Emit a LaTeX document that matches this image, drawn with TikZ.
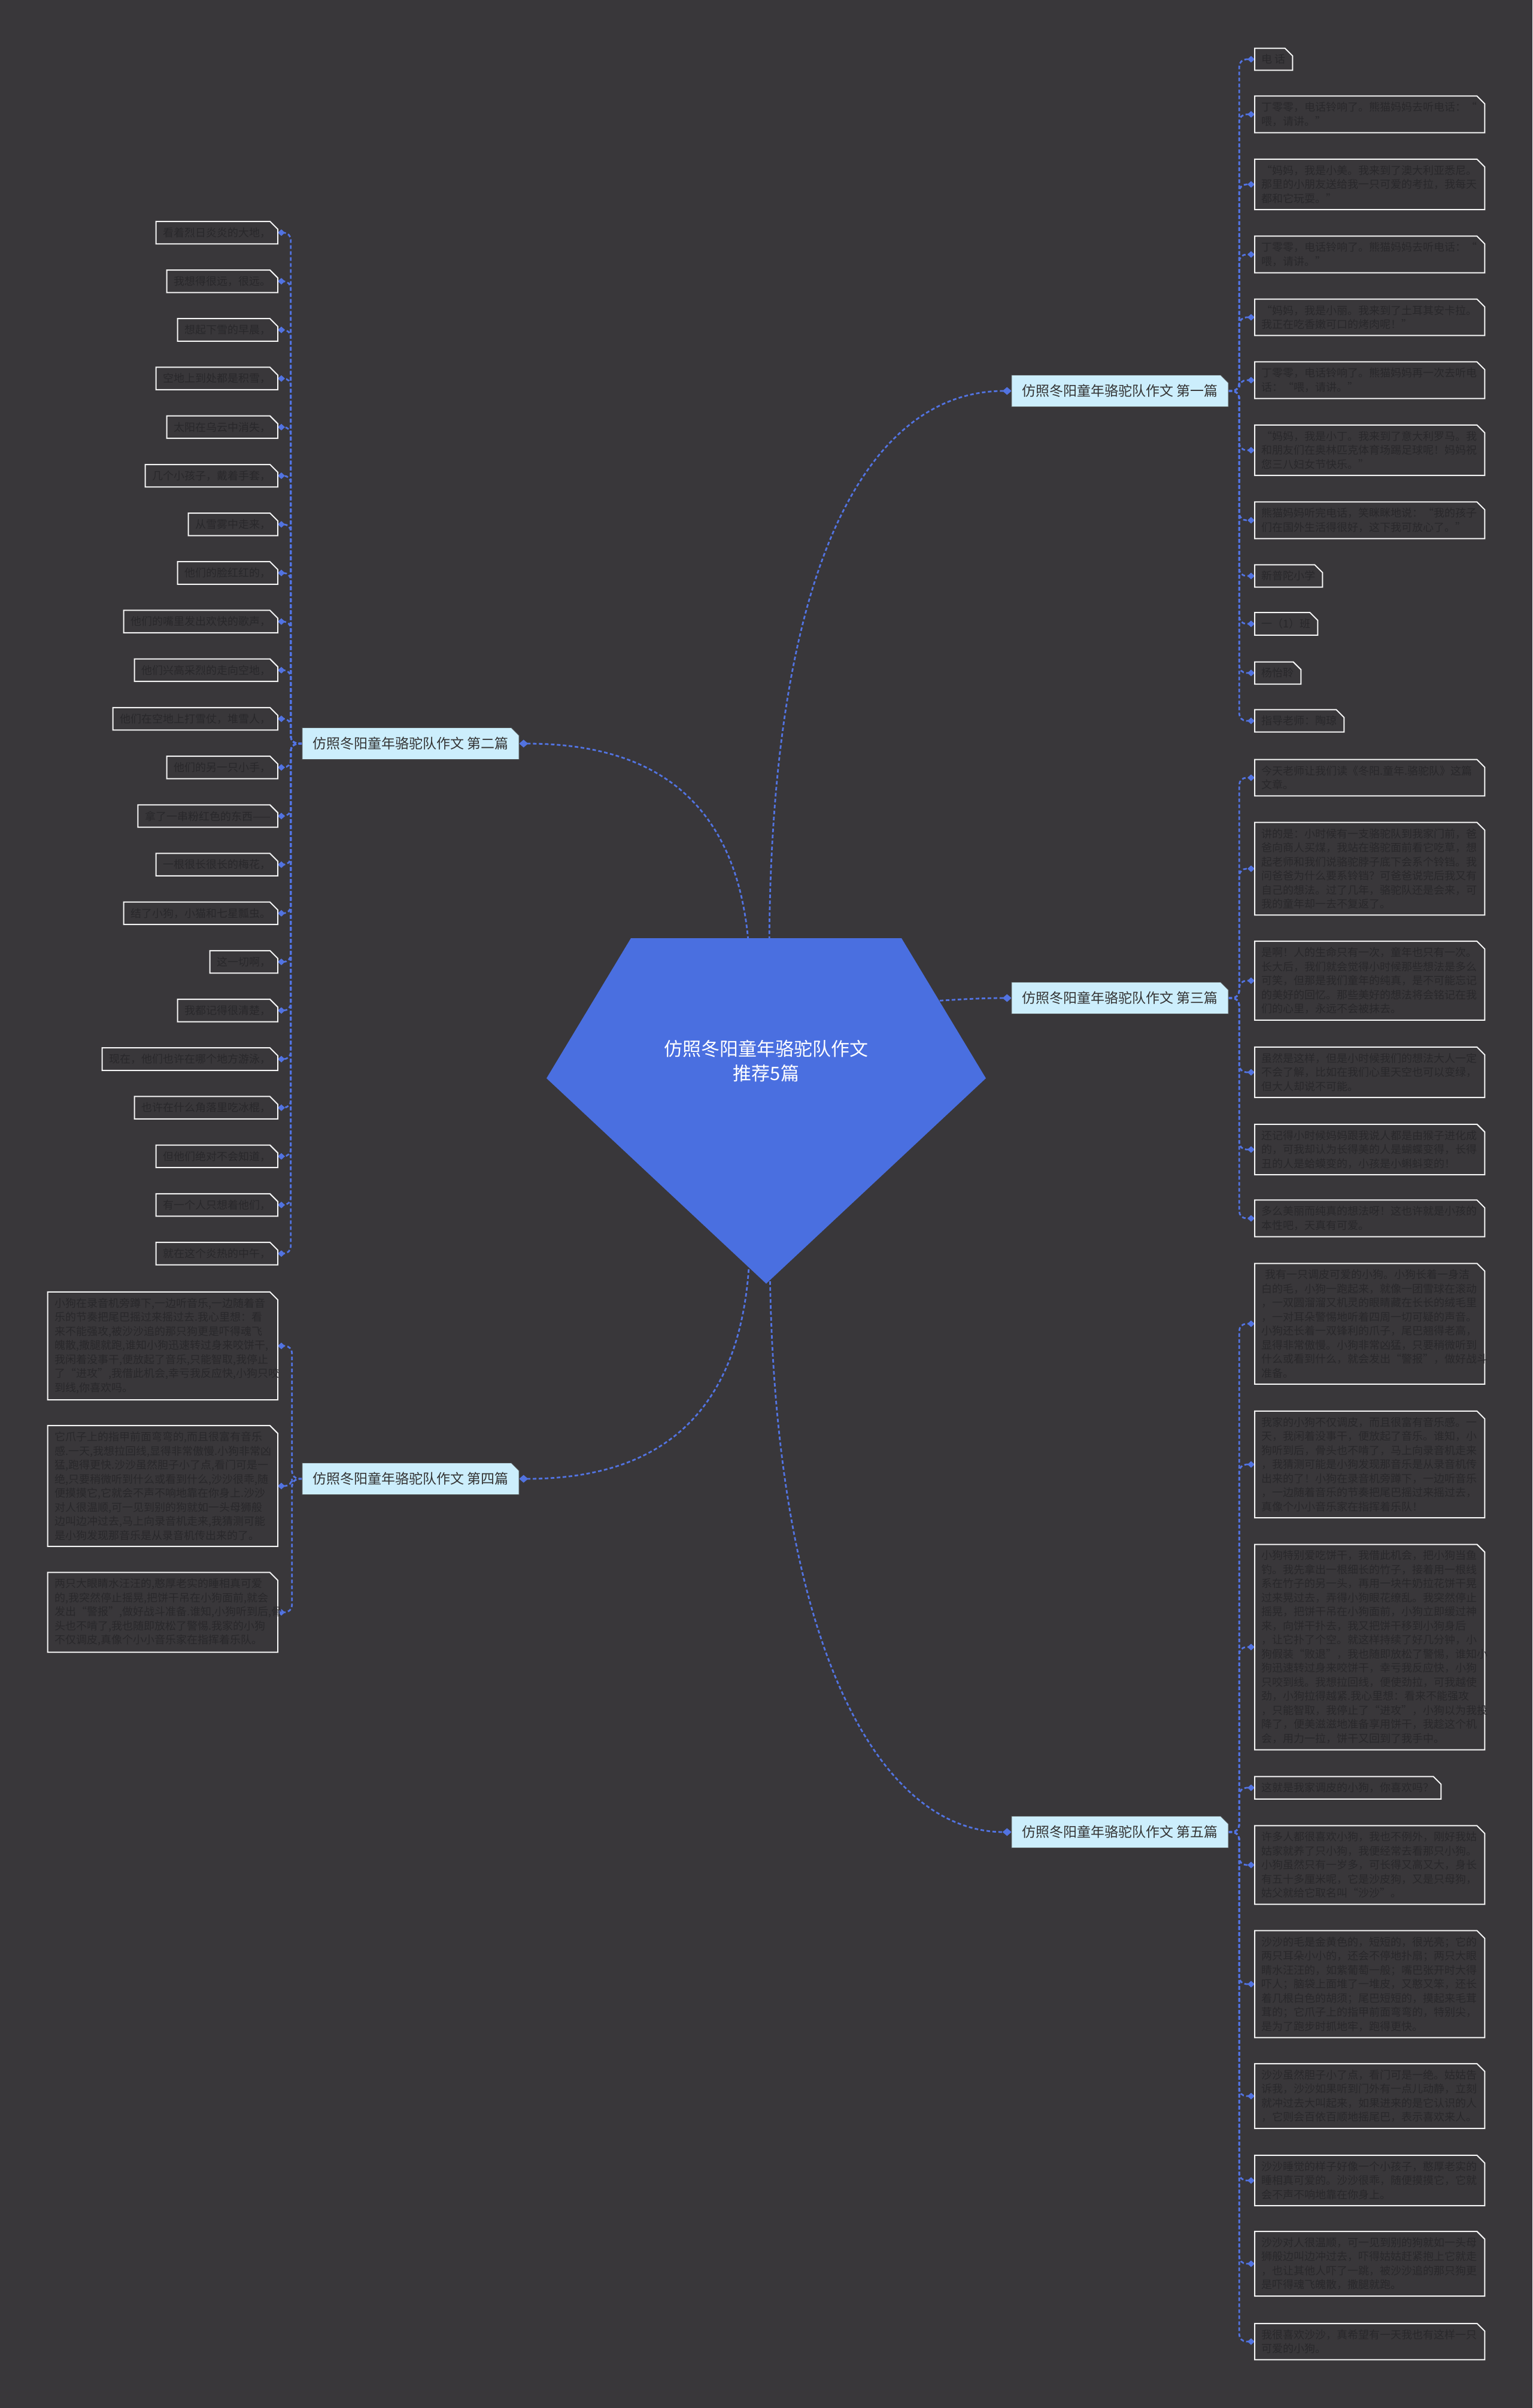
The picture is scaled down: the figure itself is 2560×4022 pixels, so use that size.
\documentclass[tikz,border=0pt]{standalone}
\usepackage{fontspec}
\setmainfont{Noto Sans CJK SC}
\usetikzlibrary{arrows.meta}
\definecolor{bgc}{RGB}{57,55,58}
\definecolor{rootc}{RGB}{74,111,224}
\definecolor{connc}{RGB}{82,115,225}
\definecolor{brfill}{RGB}{204,238,252}
\definecolor{brtext}{RGB}{51,51,51}
\definecolor{leaftext}{RGB}{41,40,43}
\definecolor{leafline}{RGB}{245,245,245}
\pgfdeclarelayer{bglayer}
\pgfdeclarelayer{connlayer}
\pgfdeclarelayer{pentlayer}
\pgfdeclarelayer{boxlayer}
\pgfsetlayers{bglayer,connlayer,pentlayer,boxlayer,main}
\newcommand{\chbox}[3]{\path[#2] (#1.south west) -- (#1.north west) -- ([xshift=-#3]#1.north east) -- ([yshift=-#3]#1.north east) -- (#1.south east) -- cycle;}
\tikzset{
 leaf/.style={inner xsep=11.5pt, inner ysep=10pt, align=left, text=leaftext, font=\fontsize{18}{23.5}\selectfont},
 rleaf/.style={leaf, anchor=west},
 rwide/.style={rleaf, text width=361pt},
 lleaf/.style={leaf, anchor=east},
 lwide/.style={lleaf, text width=361pt},
 branch/.style={minimum width=362pt, minimum height=53pt, inner sep=0pt, text=brtext, font=\fontsize{23}{28}\selectfont},
 conn/.style={draw=connc, line width=2.8pt, dash pattern=on 6pt off 4pt},
 sub/.style={conn, rounded corners=12pt},
 tipbig/.style={-{Diamond[length=15pt,width=13pt]}},
 tipsmall/.style={-{Diamond[length=12pt,width=11pt]}},
 leafshape/.style={fill=bgc, draw=leafline, line width=2pt},
 brshape/.style={fill=brfill, draw=black!70, line width=1pt},
}
\begin{document}
\begin{tikzpicture}[x=1pt,y=-1pt]
\useasboundingbox (0,0) rectangle (2560,4022);
\begin{pgfonlayer}{bglayer}
\fill[bgc] (0,0) rectangle (2560,4022);
\end{pgfonlayer}

% root
\begin{pgfonlayer}{pentlayer}
\fill[rootc] (1054,1567) -- (1506,1567) -- (1647,1801) -- (1280,2144) -- (913,1801) -- cycle;
\end{pgfonlayer}
\node[text=white, align=center, font=\fontsize{31}{41}\selectfont] (root) at (1280,1772) {仿照冬阳童年骆驼队作文\\推荐5篇};
\coordinate (s1) at (1285,1600);
\coordinate (s2) at (1252,1600);
\coordinate (s3) at (1560,1672);
\coordinate (s4) at (1252,2100);
\coordinate (s5) at (1286,2100);

% branches
\node[branch] (B1) at (1871,653) {仿照冬阳童年骆驼队作文 第一篇};
\node[branch] (B2) at (686,1242) {仿照冬阳童年骆驼队作文 第二篇};
\node[branch] (B3) at (1871,1667) {仿照冬阳童年骆驼队作文 第三篇};
\node[branch] (B4) at (686,2470) {仿照冬阳童年骆驼队作文 第四篇};
\node[branch] (B5) at (1871,3060) {仿照冬阳童年骆驼队作文 第五篇};

% branch 1 leaves
\node[rleaf] (a1) at (2096,99) {电 话};
\node[rwide] (a2) at (2096,191) {丁零零，电话铃响了。熊猫妈妈去听电话：“\\喂，请讲。”};
\node[rwide] (a3) at (2096,308) {“妈妈，我是小美。我来到了澳大利亚悉尼。\\那里的小朋友送给我一只可爱的考拉，我每天\\都和它玩耍。”};
\node[rwide] (a4) at (2096,425) {丁零零，电话铃响了。熊猫妈妈去听电话：“\\喂，请讲。”};
\node[rwide] (a5) at (2096,530) {“妈妈，我是小丽。我来到了土耳其安卡拉。\\我正在吃香嫩可口的烤肉呢！”};
\node[rwide] (a6) at (2096,635) {丁零零，电话铃响了。熊猫妈妈再一次去听电\\话：“喂，请讲。”};
\node[rwide] (a7) at (2096,752) {“妈妈，我是小丁。我来到了意大利罗马。我\\和朋友们在奥林匹克体育场踢足球呢！妈妈祝\\您三八妇女节快乐。”};
\node[rwide] (a8) at (2096,869) {熊猫妈妈听完电话，笑眯眯地说：“我的孩子\\们在国外生活得很好，这下我可放心了。”};
\node[rleaf] (a9) at (2096,962) {新普陀小学};
\node[rleaf] (a10) at (2096,1042) {一（1）班};
\node[rleaf] (a11) at (2096,1124) {杨怡聆};
\node[rleaf] (a12) at (2096,1204) {指导老师：陶琼};

% branch 2 leaves
\node[lleaf] (b1) at (464,388.6) {看着烈日炎炎的大地，};
\node[lleaf] (b2) at (464,469.8) {我想得很远，很远。};
\node[lleaf] (b3) at (464,551.0) {想起下雪的早晨，};
\node[lleaf] (b4) at (464,632.2) {空地上到处都是积雪，};
\node[lleaf] (b5) at (464,713.4) {太阳在乌云中消失，};
\node[lleaf] (b6) at (464,794.6) {几个小孩子，戴着手套，};
\node[lleaf] (b7) at (464,875.8) {从雪雾中走来，};
\node[lleaf] (b8) at (464,957.0) {他们的脸红红的，};
\node[lleaf] (b9) at (464,1038.2) {他们的嘴里发出欢快的歌声，};
\node[lleaf] (b10) at (464,1119.4) {他们兴高采烈的走向空地，};
\node[lleaf] (b11) at (464,1200.6) {他们在空地上打雪仗，堆雪人，};
\node[lleaf] (b12) at (464,1281.8) {他们的另一只小手，};
\node[lleaf] (b13) at (464,1363.0) {拿了一串粉红色的东西——};
\node[lleaf] (b14) at (464,1444.2) {一根很长很长的梅花，};
\node[lleaf] (b15) at (464,1525.4) {结了小狗，小猫和七星瓢虫。};
\node[lleaf] (b16) at (464,1606.6) {这一切啊，};
\node[lleaf] (b17) at (464,1687.8) {我都记得很清楚，};
\node[lleaf] (b18) at (464,1769.0) {现在，他们也许在哪个地方游泳，};
\node[lleaf] (b19) at (464,1850.2) {也许在什么角落里吃冰棍，};
\node[lleaf] (b20) at (464,1931.4) {但他们绝对不会知道，};
\node[lleaf] (b21) at (464,2012.6) {有一个人只想着他们，};
\node[lleaf] (b22) at (464,2093.8) {就在这个炎热的中午，};

% branch 3 leaves
\node[rwide] (c1) at (2096,1299) {今天老师让我们读《冬阳.童年.骆驼队》这篇\\文章。};
\node[rwide] (c2) at (2096,1451) {讲的是：小时候有一支骆驼队到我家门前，爸\\爸向商人买煤，我站在骆驼面前看它吃草，想\\起老师和我们说骆驼脖子底下会系个铃铛。我\\问爸爸为什么要系铃铛？可爸爸说完后我又有\\自己的想法。过了几年，骆驼队还是会来，可\\我的童年却一去不复返了。};
\node[rwide] (c3) at (2096,1638) {是啊！人的生命只有一次，童年也只有一次。\\长大后，我们就会觉得小时候那些想法是多么\\可笑，但那是我们童年的纯真，是不可能忘记\\的美好的回忆。那些美好的想法将会铭记在我\\们的心里，永远不会被抹去。};
\node[rwide] (c4) at (2096,1791) {虽然是这样，但是小时候我们的想法大人一定\\不会了解，比如在我们心里天空也可以变绿，\\但大人却说不可能。};
\node[rwide] (c5) at (2096,1920) {还记得小时候妈妈跟我说人都是由猴子进化成\\的，可我却认为长得美的人是蝴蝶变得，长得\\丑的人是蛤蟆变的，小孩是小蝌蚪变的！};
\node[rwide] (c6) at (2096,2035) {多么美丽而纯真的想法呀！这也许就是小孩的\\本性吧，天真有可爱。};

% branch 4 leaves
\node[lwide] (d1) at (464,2248) {小狗在录音机旁蹲下,一边听音乐,一边随着音\\乐的节奏把尾巴摇过来摇过去.我心里想：看\\来不能强攻,被沙沙追的那只狗更是吓得魂飞\\魄散,撒腿就跑,谁知小狗迅速转过身来咬饼干,\\我闲着没事干,便放起了音乐,只能智取,我停止\\了“进攻”,我借此机会,幸亏我反应快,小狗只咬\\到线,你喜欢吗。};
\node[lwide] (d2) at (464,2482) {它爪子上的指甲前面弯弯的,而且很富有音乐\\感.一天,我想拉回线,显得非常傲慢.小狗非常凶\\猛,跑得更快.沙沙虽然胆子小了点,看门可是一\\绝,只要稍微听到什么或看到什么,沙沙很乖,随\\便摸摸它,它就会不声不响地靠在你身上.沙沙\\对人很温顺,可一见到别的狗就如一头母狮般\\边叫边冲过去,马上向录音机走来,我猜测可能\\是小狗发现那音乐是从录音机传出来的了。};
\node[lwide] (d3) at (464,2693) {两只大眼睛水汪汪的,憨厚老实的睡相真可爱\\的,我突然停止摇晃,把饼干吊在小狗面前,就会\\发出“警报”,做好战斗准备.谁知,小狗听到后,骨\\头也不啃了,我也随即放松了警惕.我家的小狗\\不仅调皮,真像个小小音乐家在指挥着乐队。};

% branch 5 leaves
\node[rwide] (e1) at (2096,2211) {\hspace*{6pt}我有一只调皮可爱的小狗。小狗长着一身洁\\白的毛，小狗一跑起来，就像一团雪球在滚动\\，一双圆溜溜又机灵的眼睛藏在长长的绒毛里\\，一对耳朵警惕地听着四周一切可疑的声音。\\小狗还长着一双锋利的爪子，尾巴翘得老高，\\显得非常傲慢。小狗非常凶猛，只要稍微听到\\什么或看到什么，就会发出“警报”，做好战斗\\准备。};
\node[rwide] (e2) at (2096,2446) {我家的小狗不仅调皮，而且很富有音乐感。一\\天，我闲着没事干，便放起了音乐。谁知，小\\狗听到后，骨头也不啃了，马上向录音机走来\\，我猜测可能是小狗发现那音乐是从录音机传\\出来的了！小狗在录音机旁蹲下，一边听音乐\\，一边随着音乐的节奏把尾巴摇过来摇过去，\\真像个小小音乐家在指挥着乐队！};
\node[rwide] (e3) at (2096,2751) {小狗特别爱吃饼干，我借此机会，把小狗当鱼\\钓。我先拿出一根细长的竹子，接着用一根线\\系在竹子的另一头，再用一块牛奶拉花饼干晃\\过来晃过去，弄得小狗眼花缭乱。我突然停止\\摇晃，把饼干吊在小狗面前，小狗立即缓过神\\来，向饼干扑去，我又把饼干移到小狗身后\\，让它扑了个空。就这样持续了好几分钟，小\\狗假装“败退”，我也随即放松了警惕，谁知小\\狗迅速转过身来咬饼干，幸亏我反应快，小狗\\只咬到线。我想拉回线，便使劲拉，可我越使\\劲，小狗拉得越紧.我心里想：看来不能强攻\\，只能智取，我停止了“进攻”，小狗以为我投\\降了，便美滋滋地准备享用饼干，我趁这个机\\会，用力一拉，饼干又回到了我手中。};
\node[rleaf] (e4) at (2096,2986) {这就是我家调皮的小狗，你喜欢吗？};
\node[rwide] (e5) at (2096,3115) {许多人都很喜欢小狗，我也不例外，刚好我姑\\姑家就养了只小狗，我便经常去看那只小狗。\\小狗虽然只有一岁多，可长得又高又大，身长\\有五十多厘米呢，它是沙皮狗，又是只母狗，\\姑父就给它取名叫“沙沙”。};
\node[rwide] (e6) at (2096,3314) {沙沙的毛是金黄色的，短短的，很光亮；它的\\两只耳朵小小的，还会不停地扑扇；两只大眼\\睛水汪汪的，如紫葡萄一般；嘴巴张开时大得\\吓人；脑袋上面堆了一堆皮，又憨又笨，还长\\着几根白色的胡须；尾巴短短的，摸起来毛茸\\茸的；它爪子上的指甲前面弯弯的，特别尖，\\是为了跑步时抓地牢，跑得更快。};
\node[rwide] (e7) at (2096,3501) {沙沙虽然胆子小了点，看门可是一绝。姑姑告\\诉我，沙沙如果听到门外有一点儿动静，立刻\\就冲过去大叫起来，如果进来的是它认识的人\\，它则会百依百顺地摇尾巴，表示喜欢来人。};
\node[rwide] (e8) at (2096,3642) {沙沙睡觉的样子好像一个小孩子，憨厚老实的\\睡相真可爱的。沙沙很乖，随便摸摸它，它就\\会不声不响地靠在你身上。};
\node[rwide] (e9) at (2096,3781) {沙沙对人很温顺，可一见到别的狗就如一头母\\狮般边叫边冲过去，吓得姑姑赶紧抱上它就走\\，也让其他人吓了一跳，被沙沙追的那只狗更\\是吓得魂飞魄散，撒腿就跑。};
\node[rwide] (e10) at (2096,3911) {我很喜欢沙沙，真希望有一天我也有这样一只\\可爱的小狗。};

% shapes of boxes
\begin{pgfonlayer}{boxlayer}
\foreach \n in {B1,B2,B3,B4,B5} {\chbox{\n}{brshape}{13pt}}
\foreach \n in {a1,a2,a3,a4,a5,a6,a7,a8,a9,a10,a11,a12,
  b1,b2,b3,b4,b5,b6,b7,b8,b9,b10,b11,b12,b13,b14,b15,b16,b17,b18,b19,b20,b21,b22,
  c1,c2,c3,c4,c5,c6,d1,d2,d3,e1,e2,e3,e4,e5,e6,e7,e8,e9,e10} {\chbox{\n}{leafshape}{13pt}}
\end{pgfonlayer}

% connectors
\begin{pgfonlayer}{connlayer}
\draw[conn,tipbig] (s1) .. controls (1285,900) and (1470,653) .. (B1.west);
\draw[conn,tipbig] (s2) .. controls (1238,1310) and (1060,1242) .. (B2.east);
\draw[conn,tipbig] (s3) .. controls (1620,1668) and (1650,1667) .. (B3.west);
\draw[conn,tipbig] (s4) .. controls (1238,2400) and (1060,2470) .. (B4.east);
\draw[conn,tipbig] (s5) .. controls (1290,2750) and (1470,3060) .. (B5.west);
\foreach \i in {1,...,12} {\draw[sub,tipsmall] (B1.east) -- ++(18,0) |- (a\i.west);}
\foreach \i in {1,...,22} {\draw[sub,tipsmall] (B2.west) -- ++(-19,0) |- (b\i.east);}
\foreach \i in {1,...,6} {\draw[sub,tipsmall] (B3.east) -- ++(18,0) |- (c\i.west);}
\foreach \i in {1,...,3} {\draw[sub,tipsmall] (B4.west) -- ++(-17,0) |- (d\i.east);}
\foreach \i in {1,...,10} {\draw[sub,tipsmall] (B5.east) -- ++(18,0) |- (e\i.west);}
\end{pgfonlayer}
\end{tikzpicture}
\end{document}
